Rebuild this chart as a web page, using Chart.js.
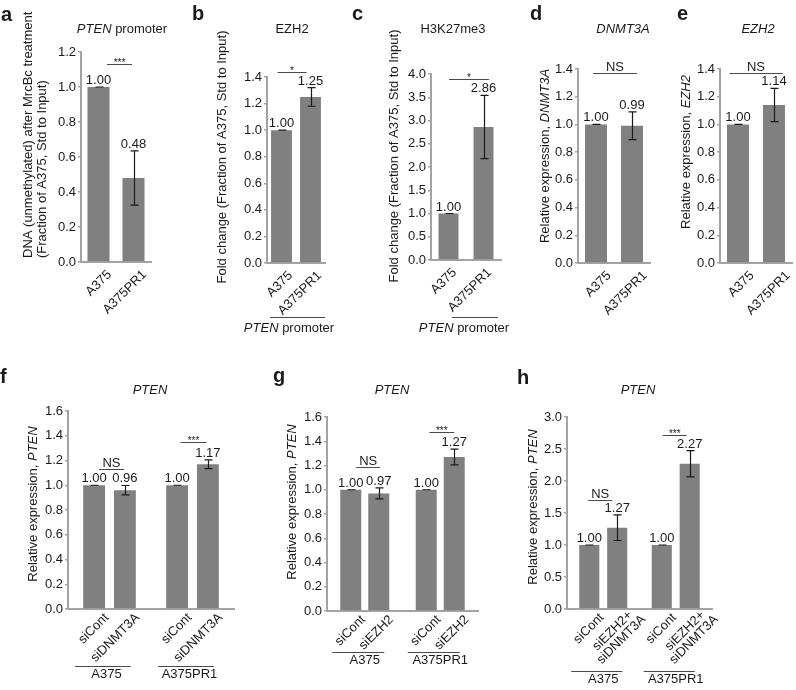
<!DOCTYPE html>
<html>
<head>
<meta charset="utf-8">
<script src="https://cdn.jsdelivr.net/npm/chart.js@4.4.1/dist/chart.umd.min.js"></script>
<style>
  html, body { margin: 0; padding: 0; background: #fff; }
  #fig { position: relative; width: 796px; height: 690px; overflow: hidden; background: #fff; }
  #fig canvas { position: absolute; left: 0; top: 0; }
</style>
</head>
<body>
<div id="fig"></div>
<script>
// values
const cellLines = ['A375', 'A375PR1'];

// a - PTEN promoter, unmethylated DNA after MrcBc
const aMeans = [1.00, 0.48];
const aErrors = [0.00, 0.155];
const aAxis = [0, 1.2, 0.2];

// b - EZH2 at PTEN promoter
const bMeans = [1.00, 1.25];
const bErrors = [0.00, 0.07];
const bAxis = [0, 1.4, 0.2];

// c - H3K27me3 at PTEN promoter
const cMeans = [1.00, 2.86];
const cErrors = [0.00, 0.68];
const cAxis = [0, 4.0, 0.5];

// d - DNMT3A expression
const dMeans = [1.00, 0.99];
const dErrors = [0.00, 0.10];
const dAxis = [0, 1.4, 0.2];

// e - EZH2 expression
const eMeans = [1.00, 1.14];
const eErrors = [0.00, 0.12];
const eAxis = [0, 1.4, 0.2];

// f - PTEN after siDNMT3A
const fTreatments = ['siCont', 'siDNMT3A'];
const fCont = [1.00, 1.00];
const fContErr = [0.00, 0.00];
const fKnock = [0.96, 1.17];
const fKnockErr = [0.038, 0.035];
const fAxis = [0, 1.6, 0.2];

// g - PTEN after siEZH2
const gTreatments = ['siCont', 'siEZH2'];
const gCont = [1.00, 1.00];
const gContErr = [0.00, 0.00];
const gKnock = [0.97, 1.27];
const gKnockErr = [0.045, 0.065];
const gAxis = [0, 1.6, 0.2];

// h - PTEN after siEZH2 + siDNMT3A
const hTreatments = ['siCont', ['siEZH2+', 'siDNMT3A']];
const hCont = [1.00, 1.00];
const hContErr = [0.00, 0.00];
const hKnock = [1.27, 2.27];
const hKnockErr = [0.20, 0.205];
const hAxis = [0, 3.0, 0.5];

// significance marks
const aSig = ['***'];
const bSig = ['*'];
const cSig = ['*'];
const dSig = ['NS'];
const eSig = ['NS'];
const fSig = ['NS', '***'];
const gSig = ['NS', '***'];
const hSig = ['NS', '***'];

const W = 796, H = 690;
const FONT = "'Liberation Sans', Arial, Helvetica, sans-serif";
const INK = '#1a1a1a';
const BAR = '#808080';
const AXIS = '#a3a3a3';
const LINE = '#4a4a4a';

Chart.defaults.font.family = FONT;
Chart.defaults.font.size = 13;
Chart.defaults.color = INK;

function fontStr(size, italic, bold) {
  return (italic ? 'italic ' : '') + (bold ? 'bold ' : '') + size + 'px ' + FONT;
}

// text between underscores is set in italic
function richText(ctx, str, x, y, size, align) {
  const parts = str.split('_').map((t, i) => ({ t, it: i % 2 === 1 })).filter(p => p.t);
  const w = parts.map(p => { ctx.font = fontStr(size, p.it); return ctx.measureText(p.t).width; });
  const total = w.reduce((s, v) => s + v, 0);
  let cx = align === 'center' ? x - total / 2 : align === 'right' ? x - total : x;
  ctx.textAlign = 'left';
  parts.forEach((p, i) => {
    ctx.font = fontStr(size, p.it);
    ctx.fillText(p.t, cx, y);
    cx += w[i];
  });
}

// rotated (45deg) label, lines centred on each other, right end at (x, y)
function slantLabel(ctx, lines, x, y) {
  ctx.save();
  ctx.translate(x, y);
  ctx.rotate(-Math.PI / 4);
  ctx.font = fontStr(13);
  ctx.textBaseline = 'top';
  ctx.textAlign = 'right';
  const widths = lines.map(s => ctx.measureText(s).width);
  const maxW = Math.max(...widths);
  lines.forEach((s, i) => ctx.fillText(s, -(maxW - widths[i]) / 2, i * 12.5));
  ctx.restore();
}

const panels = [
  { id: 'a', letter: [1, 21], title: ['_PTEN_ promoter', 122, 29],
    yTitle: { lines: ['DNA (unmethylated) after MrcBc treatment', '(Fraction of A375, Std to Input)'], xs: [28, 42], y: 258, align: 'left' },
    area: [81, 151, 52, 262], axis: aAxis, labelOffset: 11, barPct: 0.63,
    labels: cellLines, series: [{ data: aMeans, err: aErrors }],
    sig: [{ from: [0, 0], to: [0, 1], level: 1.13, text: aSig[0], half: 12.5, shift: 3.5 }] },
  { id: 'b', letter: [192, 20], title: ['EZH2', 292, 29],
    yTitle: { lines: ['Fold change (Fraction of A375, Std to Input)'], xs: [222], y: 157, align: 'center' },
    area: [267, 325, 77, 263], axis: bAxis, labelOffset: 9, barPct: 0.72,
    labels: cellLines, series: [{ data: bMeans, err: bErrors }],
    sig: [{ from: [0, 0], to: [0, 1], level: 1.44, text: bSig[0], half: 14.5, shift: -4 }],
    under: { text: '_PTEN_ promoter', x1: 270, x2: 325, y: 317, tx: 289, ty: 328 } },
  { id: 'c', letter: [352, 20], title: ['H3K27me3', 453, 29],
    yTitle: { lines: ['Fold change (Fraction of A375, Std to Input)'], xs: [394], y: 156, align: 'center' },
    area: [431, 501, 74, 260], axis: cAxis, labelOffset: 6, barPct: 0.57,
    labels: cellLines, series: [{ data: cMeans, err: cErrors }],
    sig: [{ from: [0, 0], to: [0, 1], level: 3.89, text: cSig[0], half: 20, shift: 3 }],
    under: { text: '_PTEN_ promoter', x1: 452, x2: 498, y: 317, tx: 464, ty: 328 } },
  { id: 'd', letter: [530, 20], title: ['_DNMT3A_', 623, 29],
    yTitle: { lines: ['Relative expression, _DNMT3A_'], xs: [545], y: 156, align: 'center' },
    area: [578, 650, 69, 263], axis: dAxis, labelOffset: 13, barPct: 0.61,
    labels: cellLines, series: [{ data: dMeans, err: dErrors }],
    sig: [{ from: [0, 0], to: [0, 1], level: 1.37, text: dSig[0], half: 22, shift: 1 }] },
  { id: 'e', letter: [677, 20], title: ['_EZH2_', 758, 29],
    yTitle: { lines: ['Relative expression, _EZH2_'], xs: [686], y: 152, align: 'center' },
    area: [720, 792, 69, 263], axis: eAxis, labelOffset: 14, barPct: 0.61,
    labels: cellLines, series: [{ data: eMeans, err: eErrors }],
    sig: [{ from: [0, 0], to: [0, 1], level: 1.37, text: eSig[0], half: 26.5, shift: 0 }] },
  { id: 'f', letter: [0, 383], title: ['_PTEN_', 150, 390],
    yTitle: { lines: ['Relative expression, _PTEN_'], xs: [33], y: 504, align: 'center' },
    area: [68, 234, 411, 609], axis: fAxis, catPct: 0.742, barPct: 0.71, groupPad: 58, groupShift: -3,
    labels: cellLines, treatments: fTreatments,
    series: [{ data: fCont, err: fContErr }, { data: fKnock, err: fKnockErr }],
    sig: [{ from: [0, 0], to: [1, 0], level: 1.13, text: fSig[0], half: 12.5, shift: 2 },
          { from: [0, 1], to: [1, 1], level: 1.35, text: fSig[1], half: 13, shift: 1 }] },
  { id: 'g', letter: [273, 382], title: ['_PTEN_', 392, 390],
    yTitle: { lines: ['Relative expression, _PTEN_'], xs: [292], y: 502, align: 'center' },
    area: [327, 478, 417, 611], axis: gAxis, catPct: 0.742, barPct: 0.75, groupPad: 42, groupShift: 0,
    labels: cellLines, treatments: gTreatments,
    series: [{ data: gCont, err: gContErr }, { data: gKnock, err: gKnockErr }],
    sig: [{ from: [0, 0], to: [1, 0], level: 1.19, text: gSig[0], half: 12, shift: 3.5 },
          { from: [0, 1], to: [1, 1], level: 1.48, text: gSig[1], half: 12.5, shift: 1.5 }] },
  { id: 'h', letter: [517, 384], title: ['_PTEN_', 638, 390],
    yTitle: { lines: ['Relative expression, _PTEN_'], xs: [533], y: 507, align: 'center' },
    area: [567, 712, 417, 609], axis: hAxis, catPct: 0.77, barPct: 0.72, groupPad: 63, groupShift: 0,
    labels: cellLines, treatments: hTreatments,
    series: [{ data: hCont, err: hContErr }, { data: hKnock, err: hKnockErr }],
    sig: [{ from: [0, 0], to: [1, 0], level: 1.70, text: hSig[0], half: 12, shift: -3 },
          { from: [0, 1], to: [1, 1], level: 2.72, text: hSig[1], half: 12, shift: -1 }] }
];

function decor(p) {
  return {
    id: 'decor_' + p.id,
    afterDatasetsDraw(chart) {
      const ctx = chart.ctx, ys = chart.scales.y;
      ctx.save();
      ctx.strokeStyle = INK;
      ctx.lineWidth = 1.2;
      p.series.forEach((s, d) => {
        chart.getDatasetMeta(d).data.forEach((bar, i) => {
          const hi = ys.getPixelForValue(s.data[i] + s.err[i]);
          const lo = ys.getPixelForValue(s.data[i] - s.err[i]);
          const x = Math.round(bar.x) + 0.5;
          ctx.beginPath();
          ctx.moveTo(x, hi); ctx.lineTo(x, lo);
          ctx.moveTo(x - 4, hi); ctx.lineTo(x + 4, hi);
          ctx.moveTo(x - 4, lo); ctx.lineTo(x + 4, lo);
          ctx.stroke();
        });
      });
      ctx.restore();
    },
    afterDraw(chart) {
      const ctx = chart.ctx, ys = chart.scales.y, area = chart.chartArea;
      ctx.save();
      ctx.fillStyle = INK;

      // value labels above bars / error bars
      ctx.textBaseline = 'alphabetic';
      ctx.textAlign = 'center';
      ctx.font = fontStr(13);
      p.series.forEach((s, d) => {
        chart.getDatasetMeta(d).data.forEach((bar, i) => {
          const top = ys.getPixelForValue(s.data[i] + s.err[i]);
          ctx.fillText(s.data[i].toFixed(2), bar.x, top - 3);
        });
      });

      // significance lines
      ctx.strokeStyle = LINE;
      ctx.lineWidth = 1;
      p.sig.forEach(s => {
        const b1 = chart.getDatasetMeta(s.from[0]).data[s.from[1]];
        const b2 = chart.getDatasetMeta(s.to[0]).data[s.to[1]];
        const mid = (b1.x + b2.x) / 2 + s.shift;
        const y = Math.round(ys.getPixelForValue(s.level)) + 0.5;
        ctx.beginPath();
        ctx.moveTo(mid - s.half, y); ctx.lineTo(mid + s.half, y);
        ctx.stroke();
        ctx.textAlign = 'center';
        if (s.text === 'NS') {
          ctx.font = fontStr(13);
          ctx.fillText(s.text, mid, y - 2.5);
        } else {
          ctx.font = fontStr(10);
          ctx.fillText(s.text, mid, y + 1.5);
        }
      });

      // panel letter and title
      ctx.font = fontStr(20, false, true);
      ctx.textAlign = 'left';
      ctx.fillText(p.id, p.letter[0], p.letter[1]);
      ctx.textBaseline = 'middle';
      richText(ctx, p.title[0], p.title[1], p.title[2], 13, 'center');

      // y axis title
      p.yTitle.lines.forEach((line, k) => {
        ctx.save();
        ctx.translate(p.yTitle.xs[k], p.yTitle.y);
        ctx.rotate(-Math.PI / 2);
        richText(ctx, line, 0, 0, 13, p.yTitle.align);
        ctx.restore();
      });

      // per-bar labels and cell-line brackets for grouped panels
      if (p.treatments) {
        const metas = p.series.map((s, d) => chart.getDatasetMeta(d));
        metas.forEach((meta, d) => {
          const name = p.treatments[d];
          const lines = Array.isArray(name) ? name : [name];
          meta.data.forEach(bar => {
            const dx = lines.length > 1 ? 13 : 8;
            const dy = lines.length > 1 ? -5 : 2;
            slantLabel(ctx, lines, bar.x + dx, area.bottom + dy);
          });
        });
        const y = Math.round(area.bottom + p.groupPad - 1) + 0.5;
        p.labels.forEach((lab, i) => {
          const first = metas[0].data[i], last = metas[metas.length - 1].data[i];
          ctx.beginPath();
          ctx.moveTo(first.x - first.width / 2 - 8, y);
          ctx.lineTo(last.x + last.width / 2 - 5, y);
          ctx.stroke();
        });
      }

      // bracket under the axis (b, c)
      if (p.under) {
        const u = p.under;
        ctx.beginPath();
        ctx.moveTo(u.x1, u.y + 0.5); ctx.lineTo(u.x2, u.y + 0.5);
        ctx.stroke();
        ctx.textBaseline = 'middle';
        richText(ctx, u.text, u.tx, u.ty, 13, 'center');
      }
      ctx.restore();
    }
  };
}

const fig = document.getElementById('fig');

function buildChart(p) {
  const canvas = document.createElement('canvas');
  canvas.width = W;
  canvas.height = H;
  fig.appendChild(canvas);
  const [l, r, t, b] = p.area;
  const grouped = !!p.treatments;
  const yW = 44;
  // x scale box runs to the bottom edge on the lower row so the group labels are not clipped
  const xH = grouped ? H - b : 70;

  const xTicks = grouped
    ? { minRotation: 0, maxRotation: 0, autoSkip: false, padding: p.groupPad, labelOffset: p.groupShift, font: { size: 13 } }
    : { minRotation: 45, maxRotation: 45, autoSkip: false, padding: 5, labelOffset: p.labelOffset, font: { size: 13 } };

  new Chart(canvas, {
    type: 'bar',
    data: {
      labels: p.labels,
      datasets: p.series.map((s, d) => ({
        label: grouped ? String(p.treatments[d]) : p.id,
        data: s.data,
        backgroundColor: BAR,
        borderWidth: 0,
        barPercentage: p.barPct,
        categoryPercentage: p.catPct || 1
      }))
    },
    options: {
      responsive: false,
      animation: false,
      devicePixelRatio: 1,
      layout: { padding: { left: l - yW, right: W - r, top: t, bottom: H - b - xH } },
      plugins: { legend: { display: false }, tooltip: { enabled: false } },
      scales: {
        x: {
          ticks: xTicks,
          grid: { display: false, drawTicks: false },
          border: { display: true, color: AXIS, width: 2 },
          afterFit: s => { s.height = xH; }
        },
        y: {
          min: p.axis[0],
          max: p.axis[1],
          ticks: { stepSize: p.axis[2], padding: 2, font: { size: 13 }, callback: v => Number(v).toFixed(1) },
          grid: { display: true, drawOnChartArea: false, drawTicks: true, tickLength: 3, color: AXIS, lineWidth: 1.5 },
          border: { display: true, color: AXIS, width: 2 },
          afterFit: s => { s.width = yW; }
        }
      }
    },
    plugins: [decor(p)]
  });
}

panels.forEach(buildChart);
</script>
</body>
</html>
